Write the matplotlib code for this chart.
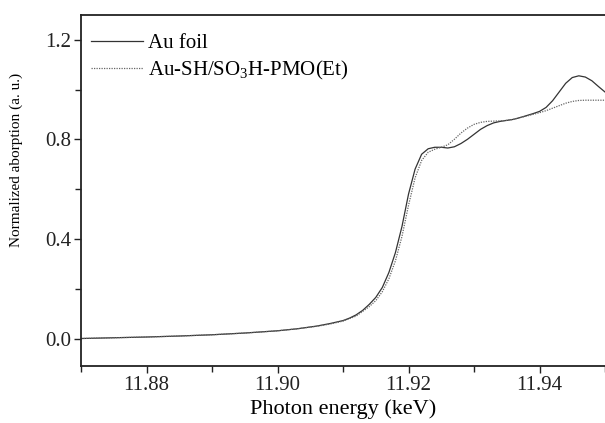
import matplotlib
matplotlib.use("Agg")
import matplotlib.pyplot as plt
from matplotlib.ticker import MultipleLocator

plt.rcParams['font.family'] = ['Liberation Serif', 'DejaVu Serif']
plt.rcParams['mathtext.fontset'] = 'custom'
plt.rcParams['mathtext.rm'] = 'Liberation Serif'

# Au foil (solid)
energy_foil = [11.870, 11.875, 11.880, 11.885, 11.890, 11.895, 11.900, 11.903,
               11.906, 11.908, 11.910, 11.911, 11.912, 11.913, 11.914, 11.915,
               11.916, 11.917, 11.918, 11.919, 11.920, 11.921, 11.922, 11.923,
               11.924, 11.925, 11.926, 11.927, 11.928, 11.929, 11.930, 11.931,
               11.932, 11.933, 11.934, 11.935, 11.936, 11.937, 11.938, 11.939,
               11.940, 11.941, 11.942, 11.943, 11.944, 11.945, 11.946, 11.947,
               11.948, 11.949, 11.950]
absorb_foil = [0.000, 0.003, 0.006, 0.010, 0.015, 0.022, 0.031, 0.039,
               0.050, 0.060, 0.072, 0.082, 0.095, 0.113, 0.137, 0.165,
               0.205, 0.265, 0.345, 0.450, 0.580, 0.680, 0.740, 0.762,
               0.768, 0.768, 0.765, 0.770, 0.783, 0.800, 0.820, 0.840,
               0.855, 0.866, 0.872, 0.876, 0.880, 0.887, 0.895, 0.903,
               0.912, 0.928, 0.955, 0.990, 1.025, 1.048, 1.055, 1.050,
               1.035, 1.012, 0.990]

# Au-SH/SO3H-PMO(Et) (dotted)
energy_pmo = [11.870, 11.875, 11.880, 11.885, 11.890, 11.895, 11.900, 11.903,
              11.906, 11.908, 11.910, 11.912, 11.914, 11.915, 11.916, 11.917,
              11.918, 11.919, 11.920, 11.921, 11.922, 11.923, 11.924, 11.925,
              11.926, 11.927, 11.928, 11.929, 11.930, 11.931, 11.932, 11.933,
              11.934, 11.935, 11.936, 11.937, 11.938, 11.939, 11.940, 11.941,
              11.942, 11.943, 11.944, 11.945, 11.946, 11.947, 11.948, 11.949,
              11.950]
absorb_pmo = [0.000, 0.003, 0.006, 0.010, 0.015, 0.022, 0.031, 0.039,
              0.049, 0.058, 0.070, 0.090, 0.128, 0.152, 0.188, 0.240,
              0.312, 0.410, 0.535, 0.645, 0.715, 0.748, 0.760, 0.768,
              0.778, 0.800, 0.825, 0.845, 0.860, 0.868, 0.872, 0.873,
              0.874, 0.876, 0.880, 0.887, 0.893, 0.900, 0.907, 0.915,
              0.925, 0.935, 0.945, 0.952, 0.956, 0.957, 0.957, 0.957,
              0.957]

fig = plt.figure(figsize=(6.05, 4.23), dpi=100)
ax = fig.add_axes([0.134, 0.135, 0.866, 0.83])

ax.plot(energy_foil, absorb_foil, color='#333333', lw=0.9, label='Au foil')
ax.plot(energy_pmo, absorb_pmo, color='#666666', lw=0.9, linestyle=(0, (1, 1)),
        label='Au-SH/SO$_3$H-PMO(Et)')

ax.set_xlim(11.87, 11.95)
ax.set_ylim(-0.11, 1.3)
ax.xaxis.set_major_locator(MultipleLocator(0.02))
ax.xaxis.set_minor_locator(MultipleLocator(0.01))
ax.yaxis.set_major_locator(MultipleLocator(0.4))
ax.yaxis.set_minor_locator(MultipleLocator(0.2))
ax.xaxis.set_major_formatter(plt.FormatStrFormatter('%.2f'))
ax.yaxis.set_major_formatter(plt.FormatStrFormatter('%.1f'))

ax.tick_params(which='both', direction='out', top=False, right=False,
               labelsize=15, width=1.0, colors='#222222', pad=2)
ax.tick_params(which='major', length=5)
ax.tick_params(which='minor', length=4)
for s in ax.spines.values():
    s.set_linewidth(1.3)
    s.set_color('#222222')
ax.spines['right'].set_visible(False)

ax.set_xlabel('Photon energy (keV)', fontsize=16, labelpad=3)
ax.set_ylabel('Normalized aborption (a. u.)', fontsize=11)
ax.yaxis.set_label_coords(-0.11, 0.587)

ax.legend(loc='upper left', bbox_to_anchor=(0.0, 0.977), frameon=False,
          fontsize=15, handlelength=2.45, borderaxespad=0.1,
          labelspacing=0.3, handletextpad=0.25)

fig.savefig('out.png', dpi=100)
